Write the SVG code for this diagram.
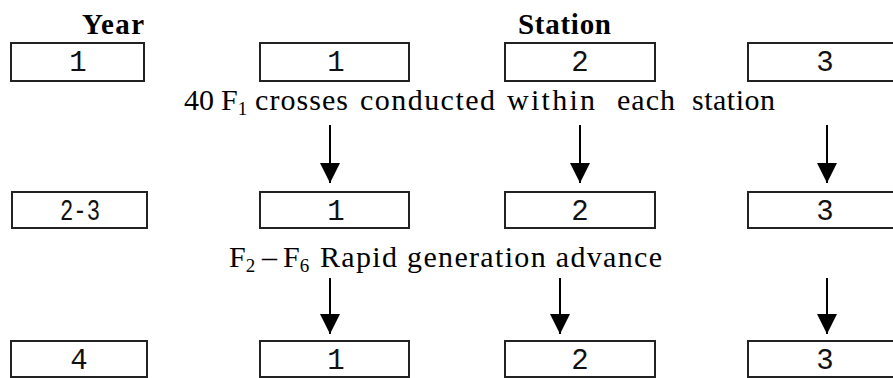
<svg xmlns="http://www.w3.org/2000/svg" width="893" height="378" viewBox="0 0 893 378">
  <defs>
    <!-- solid triangular arrowhead, drawn along +x so orient="auto" points it along the line -->
    <marker id="arrow" viewBox="0 0 20 20" refX="20" refY="10" markerWidth="20" markerHeight="20" markerUnits="userSpaceOnUse" orient="auto">
      <path d="M0,0 L20,10 L0,20 Z" fill="#000"/>
    </marker>
    <style>
      .box { fill: #fff; stroke: #222; stroke-width: 2; }
      .num { font-family: "Liberation Mono", "DejaVu Sans Mono", monospace; font-size: 29px; text-anchor: middle; fill: #111; }
      .head { font-family: "Liberation Serif", "Times New Roman", serif; font-size: 29px; font-weight: bold; fill: #000; }
      .lbl { font-family: "Liberation Serif", "Times New Roman", serif; font-size: 30px; fill: #000; }
      .sub { font-size: 19px; }
      .conn { stroke: #000; stroke-width: 2; fill: none; }
    </style>
  </defs>
  <rect width="893" height="378" fill="#fff"/>

  <!-- column headings -->
  <text class="head" x="82" y="34" textLength="62">Year</text>
  <text class="head" x="518" y="34" textLength="93">Station</text>

  <!-- year column -->
  <g id="year-1"><rect class="box" x="11" y="43" width="133" height="38"/><text class="num" x="78" y="71">1</text></g>
  <g id="year-2-3"><rect class="box" x="12" y="192" width="135" height="36"/><text class="num" x="80" y="220" textLength="40" lengthAdjust="spacingAndGlyphs">2-3</text></g>
  <g id="year-4"><rect class="box" x="11" y="341" width="136" height="36"/><text class="num" x="79" y="369">4</text></g>

  <!-- year 1 stations -->
  <g id="y1-station-1"><rect class="box" x="260" y="43" width="149" height="38"/><text class="num" x="336" y="71">1</text></g>
  <g id="y1-station-2"><rect class="box" x="505" y="43" width="150" height="38"/><text class="num" x="580" y="71">2</text></g>
  <g id="y1-station-3"><rect class="box" x="748" y="43" width="152" height="38"/><text class="num" x="825" y="71">3</text></g>

  <!-- years 2-3 stations -->
  <g id="y23-station-1"><rect class="box" x="260" y="192" width="149" height="36"/><text class="num" x="336" y="220">1</text></g>
  <g id="y23-station-2"><rect class="box" x="505" y="192" width="150" height="36"/><text class="num" x="580" y="220">2</text></g>
  <g id="y23-station-3"><rect class="box" x="748" y="192" width="152" height="36"/><text class="num" x="825" y="220">3</text></g>

  <!-- year 4 stations -->
  <g id="y4-station-1"><rect class="box" x="260" y="341" width="149" height="36"/><text class="num" x="336" y="369">1</text></g>
  <g id="y4-station-2"><rect class="box" x="505" y="341" width="150" height="36"/><text class="num" x="580" y="369">2</text></g>
  <g id="y4-station-3"><rect class="box" x="748" y="341" width="152" height="36"/><text class="num" x="825" y="369">3</text></g>

  <!-- step labels -->
  <text class="lbl" y="110">
    <tspan x="184">40</tspan>
    <tspan x="221">F</tspan><tspan class="sub" dy="5">1</tspan>
    <tspan x="255" y="110" textLength="93">crosses</tspan>
    <tspan x="360" textLength="135">conducted</tspan>
    <tspan x="507" textLength="88">within</tspan>
    <tspan x="617" textLength="58">each</tspan>
    <tspan x="692" textLength="83">station</tspan>
  </text>
  <text class="lbl" y="267">
    <tspan x="229">F</tspan><tspan class="sub" dy="5">2</tspan>
    <tspan x="262" y="267">–</tspan>
    <tspan x="283">F</tspan><tspan class="sub" dy="5">6</tspan>
    <tspan x="320" y="267" textLength="342">Rapid generation advance</tspan>
  </text>

  <!-- connectors -->
  <g id="connectors">
    <line class="conn" x1="330" y1="125" x2="330" y2="183" marker-end="url(#arrow)"/>
    <line class="conn" x1="580" y1="125" x2="580" y2="183" marker-end="url(#arrow)"/>
    <line class="conn" x1="827" y1="125" x2="827" y2="183" marker-end="url(#arrow)"/>
    <line class="conn" x1="330" y1="278" x2="330" y2="334" marker-end="url(#arrow)"/>
    <line class="conn" x1="560" y1="278" x2="560" y2="334" marker-end="url(#arrow)"/>
    <line class="conn" x1="827" y1="278" x2="827" y2="334" marker-end="url(#arrow)"/>
  </g>
</svg>
